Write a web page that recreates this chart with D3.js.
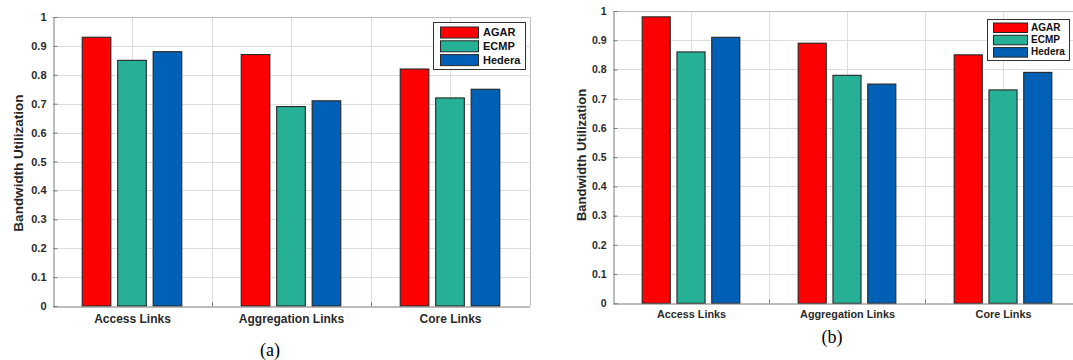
<!DOCTYPE html>
<html>
<head>
<meta charset="utf-8">
<script src="https://cdn.jsdelivr.net/npm/d3@7"></script>
<style>
  html, body { margin: 0; padding: 0; background: #fff; }
  svg { display: block; }
  text { font-family: "Liberation Sans", Arial, Helvetica, sans-serif; }
  text.caption { font-family: "Liberation Serif", "Times New Roman", serif; }
</style>
</head>
<body>
<svg id="fig" width="1073" height="360"></svg>
<script>
// Link categories and routing schemes
const categories = ["Access Links", "Aggregation Links", "Core Links"];
const schemes = ["AGAR", "ECMP", "Hedera"];
const schemeColors = ["#ff0000", "#26b196", "#0060b6"];

// Bandwidth utilization per scheme, one value per category
const agarA = [0.93, 0.87, 0.82];
const ecmpA = [0.85, 0.69, 0.72];
const hederaA = [0.88, 0.71, 0.75];

const agarB = [0.98, 0.89, 0.85];
const ecmpB = [0.86, 0.78, 0.73];
const hederaB = [0.91, 0.75, 0.79];

const yTicks = [0, 0.1, 0.2, 0.3, 0.4, 0.5, 0.6, 0.7, 0.8, 0.9, 1];
const yLabel = "Bandwidth Utilization";

const svg = d3.select("#fig");

function drawPanel(opts) {
  const series = opts.series;
  const x = d3.scaleLinear().domain([0.5, 3.5]).range([opts.left, opts.right]);
  const y = d3.scaleLinear().domain([0, 1]).range([opts.bottom, opts.top]);
  const g = svg.append("g");

  // grid
  const grid = g.append("g").attr("stroke", "#dedede").attr("stroke-width", 1);
  grid.selectAll("line.h").data(yTicks.slice(1, -1)).join("line")
    .attr("x1", x(0.5)).attr("x2", x(3.5))
    .attr("y1", d => Math.round(y(d)) + 0.5).attr("y2", d => Math.round(y(d)) + 0.5);
  grid.selectAll("line.v").data([1, 1.5, 2, 2.5, 3]).join("line")
    .attr("x1", d => Math.round(x(d)) + 0.5).attr("x2", d => Math.round(x(d)) + 0.5)
    .attr("y1", y(0)).attr("y2", y(1));

  // box (top and right edges)
  g.append("line").attr("x1", x(0.5)).attr("x2", x(3.5))
    .attr("y1", Math.round(y(1)) + 0.5).attr("y2", Math.round(y(1)) + 0.5)
    .attr("stroke", "#bdbdbd");
  g.append("line").attr("x1", Math.round(x(3.5)) + 0.5).attr("x2", Math.round(x(3.5)) + 0.5)
    .attr("y1", y(0)).attr("y2", y(1)).attr("stroke", "#bdbdbd");

  // bars
  const offsets = [-0.223, 0, 0.223];
  const bw = 0.18;
  series.forEach((vals, si) => {
    g.append("g").selectAll("rect").data(vals).join("rect")
      .attr("x", (d, i) => x(i + 1 + offsets[si] - bw / 2))
      .attr("width", x(bw) - x(0))
      .attr("y", d => y(d))
      .attr("height", d => y(0) - y(d))
      .attr("fill", schemeColors[si])
      .attr("stroke", "#262626")
      .attr("stroke-width", 1.1);
  });

  // y axis
  const yAxis = g.append("g")
    .attr("transform", `translate(${Math.round(x(0.5)) + 0.5},0)`)
    .call(d3.axisLeft(y).tickValues(yTicks).tickSizeInner(-4).tickSizeOuter(0)
      .tickPadding(7).tickFormat(d3.format(".1~f")));
  yAxis.select(".domain").attr("stroke", "#7a7a7a");
  yAxis.selectAll(".tick line").attr("stroke", "#7a7a7a");
  yAxis.selectAll("text")
    .attr("font-size", opts.tickFont).attr("font-weight", "bold").attr("fill", "#2a2a2a");

  // x axis
  const xAxis = g.append("g")
    .attr("transform", `translate(0,${Math.round(y(0)) + 0.5})`)
    .call(d3.axisBottom(x).tickValues([1, 2, 3]).tickSize(0).tickPadding(opts.xPad)
      .tickFormat((d, i) => categories[i]));
  xAxis.select(".domain").attr("stroke", "#7a7a7a");
  xAxis.selectAll("text")
    .attr("font-size", opts.catFont).attr("font-weight", "bold").attr("fill", "#2a2a2a");
  xAxis.selectAll("line.mt").data([1.5, 2.5]).join("line")
    .attr("x1", d => Math.round(x(d)) + 0.5).attr("x2", d => Math.round(x(d)) + 0.5)
    .attr("y1", 0).attr("y2", -4).attr("stroke", "#7a7a7a");

  // y label
  svg.append("text")
    .attr("transform", `translate(${opts.yLabelX},${opts.yLabelY}) rotate(-90)`)
    .attr("text-anchor", "middle")
    .attr("font-size", opts.labelFont).attr("font-weight", "bold").attr("fill", "#262626")
    .text(yLabel);

  // legend
  const L = opts.legend;
  const lg = svg.append("g").attr("transform", `translate(${L.x},${L.y})`);
  lg.append("rect").attr("x", 0.5).attr("y", 0.5).attr("width", L.w).attr("height", L.h)
    .attr("fill", "#fff").attr("stroke", "#333");
  schemes.forEach((s, i) => {
    lg.append("rect")
      .attr("x", L.sx + 0.5).attr("y", L.sy + i * L.step + 0.5)
      .attr("width", L.sw).attr("height", L.sh)
      .attr("fill", schemeColors[i]).attr("stroke", "#262626");
    lg.append("text")
      .attr("x", L.tx).attr("y", L.sy + i * L.step + L.sh / 2)
      .attr("dy", "0.36em")
      .attr("font-size", L.font).attr("font-weight", "bold").attr("fill", "#111")
      .text(s);
  });

  // caption
  svg.append("text")
    .attr("class", "caption")
    .attr("x", opts.capX).attr("y", opts.capY)
    .attr("text-anchor", "middle")
    .attr("font-size", 18).attr("fill", "#000")
    .text(opts.caption);
}

drawPanel({
  name: "a",
  series: [agarA, ecmpA, hederaA],
  left: 52.5, right: 529.5, top: 17, bottom: 306,
  tickFont: 11, catFont: 12, labelFont: 13.5, xPad: 8,
  yLabelX: 23, yLabelY: 163,
  legend: { x: 433, y: 22, w: 92, h: 47, sx: 7, sy: 4.5, sw: 38, sh: 11, step: 13.8, tx: 50, font: 11 },
  capX: 270, capY: 356, caption: "(a)"
});

drawPanel({
  name: "b",
  series: [agarB, ecmpB, hederaB],
  left: 613, right: 1081, top: 11, bottom: 303.3,
  tickFont: 10.5, catFont: 10.8, labelFont: 13, xPad: 7,
  yLabelX: 586, yLabelY: 155,
  legend: { x: 987, y: 19, w: 82, h: 41, sx: 6, sy: 3.5, sw: 34, sh: 9.5, step: 12.3, tx: 44, font: 10 },
  capX: 832, capY: 343, caption: "(b)"
});
</script>
</body>
</html>
